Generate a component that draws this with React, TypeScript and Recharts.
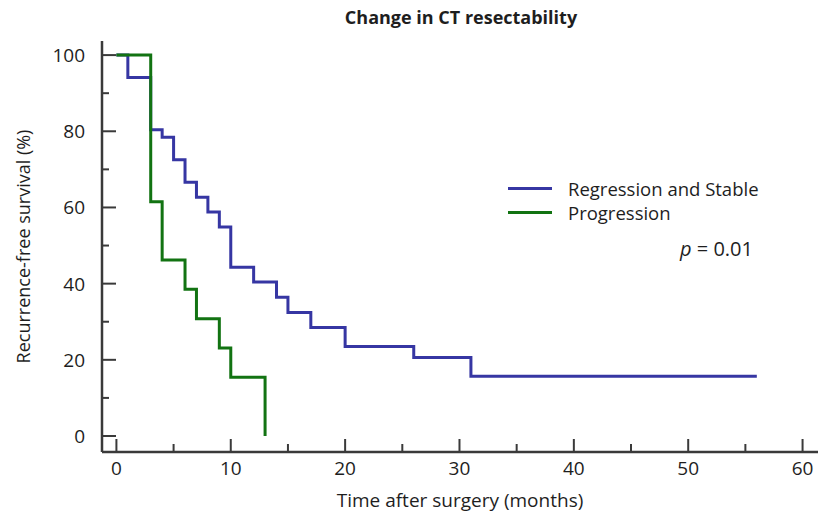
import { LineChart, Line, XAxis, YAxis } from 'recharts'

// Kaplan-Meier steps (months, % recurrence-free)
const stableMonths = [0, 1, 3, 4, 5, 6, 7, 8, 9, 10, 12, 14, 15, 17, 20, 26, 31, 56]
const stableSurvival = [100, 94.1, 80.4, 78.4, 72.5, 66.6, 62.7, 58.8, 54.9, 44.3, 40.4, 36.4, 32.4, 28.5, 23.5, 20.6, 15.7, 15.7]
const progressionMonths = [0, 3, 4, 6, 7, 9, 10, 13]
const progressionSurvival = [100, 61.5, 46.2, 38.5, 30.8, 23.1, 15.4, 0]

const xTicks = [0, 5, 10, 15, 20, 25, 30, 35, 40, 45, 50, 55, 60]
const yTicks = [0, 10, 20, 30, 40, 50, 60, 70, 80, 90, 100]

const seriesNames = ['Regression and Stable', 'Progression']
const pValue = '0.01'

const BLUE = '#3636a3'
const GREEN = '#127312'
const AXIS = '#3a3a3a'
const TEXT = '#1e1e1e'
const FONT = "'Open Sans', sans-serif"

const stableData = stableMonths.map((t, i) => ({ t, s: stableSurvival[i] }))
const progressionData = progressionMonths.map((t, i) => ({ t, s: progressionSurvival[i] }))

function XTick({ x, y, payload }: any) {
  const major = payload.value % 10 === 0
  return (
    <g>
      <line x1={x} y1={y} x2={x} y2={y - (major ? 13 : 8)} stroke={AXIS} strokeWidth={2} />
      {major && (
        <text x={x} y={y + 23} textAnchor="middle" fontSize={19} fontFamily={FONT} fill={TEXT}>
          {payload.value}
        </text>
      )}
    </g>
  )
}

function YTick({ x, y, payload }: any) {
  const major = payload.value % 20 === 0
  return (
    <g>
      <line x1={x} y1={y} x2={x + (major ? 14 : 7)} y2={y} stroke={AXIS} strokeWidth={2} />
      {major && (
        <text x={x - 17} y={y + 7} textAnchor="end" fontSize={19} fontFamily={FONT} fill={TEXT}>
          {payload.value}
        </text>
      )}
    </g>
  )
}

export default function App() {
  return (
    <div style={{ position: 'absolute', left: 0, top: 0, width: 823, height: 518, background: '#fff', fontFamily: FONT }}>
      <div style={{
        position: 'absolute', left: 0, width: 922, top: 5, textAlign: 'center',
        fontSize: 18, fontWeight: 700, color: TEXT,
      }}>
        Change in CT resectability
      </div>

      <LineChart width={823} height={518} margin={{ top: 41, right: 5, left: 0, bottom: 0 }}>
        <XAxis
          dataKey="t" type="number" domain={[-1.26, 61.35]} ticks={xTicks}
          height={66} tickSize={0} tickMargin={0} tickLine={false} tick={<XTick />}
          axisLine={{ stroke: AXIS, strokeWidth: 2.5 }}
          allowDataOverflow
          label={{ value: 'Time after surgery (months)', position: 'insideBottom', offset: 11, fontSize: 19, fill: TEXT, fontFamily: FONT }}
        />
        <YAxis
          type="number" domain={[-4.2, 103.7]} ticks={yTicks}
          width={102} tickSize={0} tickMargin={0} tickLine={false} tick={<YTick />}
          axisLine={{ stroke: AXIS, strokeWidth: 2.5 }}
          allowDataOverflow
          label={{
            value: 'Recurrence-free survival (%)', angle: -90, position: 'insideLeft', offset: 24,
            fontSize: 18, fill: TEXT, fontFamily: FONT, style: { textAnchor: 'middle' },
          }}
        />
        <Line data={stableData} dataKey="s" type="stepAfter" stroke={BLUE} strokeWidth={3} dot={false} isAnimationActive={false} />
        <Line data={progressionData} dataKey="s" type="stepAfter" stroke={GREEN} strokeWidth={3} dot={false} isAnimationActive={false} />
      </LineChart>

      {/* legend and p value */}
      {[BLUE, GREEN].map((c, i) => (
        <div key={c} style={{ position: 'absolute', left: 508, top: 176 + i * 24, display: 'flex', alignItems: 'center', height: 25 }}>
          <div style={{ width: 44, height: 3, background: c }} />
          <span style={{ marginLeft: 16, fontSize: 18.5, color: TEXT }}>{seriesNames[i]}</span>
        </div>
      ))}
      <div style={{ position: 'absolute', left: 680, top: 235, fontSize: 20, color: TEXT }}>
        <i>p</i> = {pValue}
      </div>
    </div>
  )
}
